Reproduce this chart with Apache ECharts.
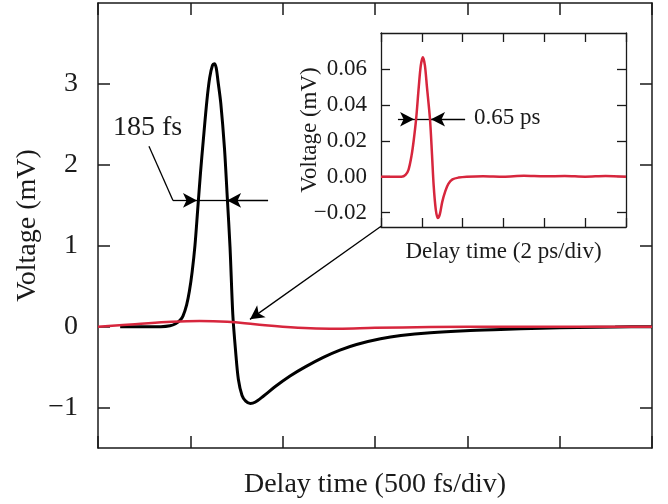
<!DOCTYPE html>
<html>
<head>
<meta charset="utf-8">
<script src="https://cdn.jsdelivr.net/npm/echarts@6/dist/echarts.min.js"></script>
<style>
    html, body { margin: 0; padding: 0; background: #fff; }
    #chart { width: 668px; height: 504px; }
</style>
</head>
<body>
<div id="chart"></div>
<script>
// main trace: delay (fs) vs voltage (mV)
var mainTime = [120, 340, 390, 420, 445, 460, 480, 495, 510, 525, 540, 555, 570, 590, 605, 620, 630, 640, 650, 665, 685, 700, 715, 730, 745, 760, 780, 800, 825, 850, 895, 960, 1040, 1120, 1220, 1310, 1400, 1530, 1640, 1800, 1990, 2180, 2400, 2600, 2800, 3000];
var mainBlack = [0, 0, 0.01, 0.035, 0.08, 0.13, 0.27, 0.44, 0.68, 1.0, 1.45, 1.9, 2.3, 2.8, 3.08, 3.23, 3.25, 3.2, 3.03, 2.76, 2.2, 1.6, 0.98, 0.15, -0.3, -0.65, -0.85, -0.92, -0.95, -0.935, -0.86, -0.74, -0.61, -0.5, -0.38, -0.29, -0.22, -0.15, -0.11, -0.075, -0.05, -0.035, -0.02, -0.01, -0.005, 0];
var redTime = [0, 200, 400, 550, 700, 850, 1000, 1150, 1300, 1500, 1800, 2200, 2600, 3000];
var mainRed = [0, 0.03, 0.06, 0.07, 0.06, 0.03, 0.0, -0.02, -0.025, -0.015, -0.005, 0, 0, 0];

// inset trace: delay (ps) vs voltage (mV)
var insetTime = [0, 1.0, 1.2, 1.35, 1.5, 1.6, 1.72, 1.85, 1.95, 2.05, 2.15, 2.25, 2.4, 2.5, 2.58, 2.68, 2.78, 2.88, 3.0, 3.15, 3.3, 3.5, 3.8, 4.2, 5, 6, 7, 8, 9, 10, 11, 12];
var insetRed = [0, 0, 0.001, 0.004, 0.012, 0.02, 0.032, 0.05, 0.062, 0.0665, 0.062, 0.05, 0.032, 0.012, -0.005, -0.018, -0.023, -0.021, -0.014, -0.008, -0.004, -0.0015, -0.0005, 0, 0.0003, 0, 0.0005, 0.0002, 0.0004, 0, 0.0004, 0];

var mainTicks = [-1, 0, 1, 2, 3];
var insetTicks = [-0.02, 0, 0.02, 0.04, 0.06];

function pairs(xs, ys) {
    return xs.map(function (x, i) { return [x, ys[i]]; });
}

var FONT = '"Liberation Serif", "DejaVu Serif", serif';
var INK = '#1a1a1a';
var RED = '#d7263d';

var chart = echarts.init(document.getElementById('chart'));

function frameAxis(extra) {
    var base = {
        axisLine: { show: true, onZero: false, lineStyle: { color: INK, width: 1.5 } },
        axisTick: { show: true, inside: true, length: 12, lineStyle: { color: INK, width: 1.5 } },
        axisLabel: { show: false },
        splitLine: { show: false },
        nameMoveOverlap: false
    };
    return Object.assign(base, extra);
}

function arrow(from, to, ends) {
    return [{ coord: from, symbol: ends[0] }, { coord: to, symbol: ends[1] }];
}

var lineMark = {
    silent: true,
    animation: false,
    symbolSize: [11, 14],
    lineStyle: { color: '#000', width: 1.3, type: 'solid' },
    label: { show: false },
    emphasis: { disabled: true }
};

var option = {
    animation: false,
    backgroundColor: '#fff',
    grid: [
        { left: 98, top: 3, width: 554, height: 448 },
        { left: 381, top: 33, width: 245, height: 194, show: true, backgroundColor: '#fff', borderWidth: 0, z: 5 }
    ],
    xAxis: [
        frameAxis({ type: 'value', gridIndex: 0, min: 0, max: 3000, interval: 500,
            name: 'Delay time (500 fs/div)', nameLocation: 'middle', nameGap: 23,
            nameTextStyle: { fontFamily: FONT, fontSize: 28, color: INK } }),
        frameAxis({ type: 'value', gridIndex: 0, position: 'top', min: 0, max: 3000, interval: 500 }),
        frameAxis({ type: 'value', gridIndex: 1, min: 0, max: 12, interval: 2, z: 6,
            axisTick: { show: true, inside: true, length: 9, lineStyle: { color: INK, width: 1.3 } },
            axisLine: { show: true, onZero: false, lineStyle: { color: INK, width: 1.3 } },
            name: 'Delay time (2 ps/div)', nameLocation: 'middle', nameGap: 13,
            nameTextStyle: { fontFamily: FONT, fontSize: 23, color: INK } }),
        frameAxis({ type: 'value', gridIndex: 1, position: 'top', min: 0, max: 12, interval: 2, z: 6,
            axisTick: { show: true, inside: true, length: 9, lineStyle: { color: INK, width: 1.3 } },
            axisLine: { show: true, onZero: false, lineStyle: { color: INK, width: 1.3 } } })
    ],
    yAxis: [
        frameAxis({ type: 'value', gridIndex: 0, min: -1.5, max: 4,
            axisTick: { show: true, inside: true, length: 12, customValues: mainTicks, lineStyle: { color: INK, width: 1.5 } },
            axisLabel: { show: true, customValues: mainTicks, margin: 20, fontFamily: FONT, fontSize: 28, color: INK,
                formatter: function (v) { return String(v).replace('-', '\u2212'); } },
            name: 'Voltage (mV)', nameLocation: 'middle', nameGap: 56, nameRotate: 90,
            nameTextStyle: { fontFamily: FONT, fontSize: 28, color: INK } }),
        frameAxis({ type: 'value', gridIndex: 0, position: 'right', min: -1.5, max: 4,
            axisTick: { show: true, inside: true, length: 12, customValues: mainTicks, lineStyle: { color: INK, width: 1.5 } } }),
        frameAxis({ type: 'value', gridIndex: 1, min: -0.028, max: 0.08, z: 6,
            axisLine: { show: true, onZero: false, lineStyle: { color: INK, width: 1.3 } },
            axisTick: { show: true, inside: true, length: 9, customValues: insetTicks, lineStyle: { color: INK, width: 1.3 } },
            axisLabel: { show: true, customValues: insetTicks, margin: 14, fontFamily: FONT, fontSize: 23, color: INK,
                formatter: function (v) { return v.toFixed(2).replace('-', '\u2212'); } },
            name: 'Voltage (mV)', nameLocation: 'middle', nameGap: 60, nameRotate: 90,
            nameTextStyle: { fontFamily: FONT, fontSize: 23, color: INK } }),
        frameAxis({ type: 'value', gridIndex: 1, position: 'right', min: -0.028, max: 0.08, z: 6,
            axisLine: { show: true, onZero: false, lineStyle: { color: INK, width: 1.3 } },
            axisTick: { show: true, inside: true, length: 9, customValues: insetTicks, lineStyle: { color: INK, width: 1.3 } } })
    ],
    series: [
        {
            type: 'line', xAxisIndex: 0, yAxisIndex: 0,
            data: pairs(mainTime, mainBlack),
            smooth: 0.3, showSymbol: false, silent: true,
            lineStyle: { color: '#000', width: 3 },
            markLine: Object.assign({}, lineMark, {
                data: [
                    arrow([276, 2.23], [406, 1.56], ['none', 'none']),
                    arrow([406, 1.56], [536, 1.56], ['none', 'arrow']),
                    arrow([536, 1.56], [699, 1.56], ['none', 'none']),
                    arrow([921, 1.56], [699, 1.56], ['none', 'arrow'])
                ]
            })
        },
        {
            type: 'line', xAxisIndex: 0, yAxisIndex: 0,
            data: pairs(redTime, mainRed),
            smooth: 0.4, showSymbol: false, silent: true,
            lineStyle: { color: RED, width: 2.5 },
            markLine: Object.assign({}, lineMark, {
                data: [
                    arrow([1533, 1.24], [823, 0.09], ['none', 'arrow'])
                ]
            })
        },
        {
            type: 'line', xAxisIndex: 2, yAxisIndex: 2,
            data: pairs(insetTime, insetRed),
            smooth: 0.3, showSymbol: false, silent: true, z: 7,
            lineStyle: { color: RED, width: 2.5 },
            markLine: Object.assign({}, lineMark, {
                data: [
                    arrow([0.83, 0.032], [1.62, 0.032], ['none', 'arrow']),
                    arrow([1.62, 0.032], [2.45, 0.032], ['none', 'none']),
                    arrow([4.12, 0.032], [2.45, 0.032], ['none', 'arrow'])
                ]
            })
        }
    ],
    graphic: [
        { type: 'text', left: 113, top: 114, z: 10,
          style: { text: '185 fs', font: '28px ' + FONT, fill: INK } },
        { type: 'text', left: 474, top: 106, z: 10,
          style: { text: '0.65 ps', font: '23px ' + FONT, fill: INK } }
    ]
};

chart.setOption(option);
</script>
</body>
</html>
